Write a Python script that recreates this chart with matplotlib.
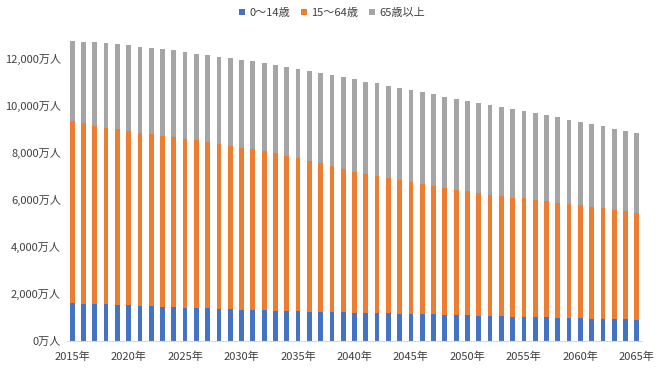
import matplotlib
matplotlib.use("Agg")
import matplotlib.pyplot as plt
from matplotlib.ticker import FuncFormatter, FixedLocator
import numpy as np

plt.rcParams['font.family'] = ['Noto Sans CJK JP', 'DejaVu Sans']

years = list(range(2015, 2066))
series_names = ["0～14歳", "15～64歳", "65歳以上"]

age_0_14 = [1595, 1578, 1559, 1541, 1521, 1507, 1485, 1464, 1444, 1425,
            1407, 1389, 1372, 1354, 1337, 1321, 1305, 1290, 1275, 1260,
            1246, 1235, 1224, 1214, 1204, 1194, 1183, 1172, 1161, 1150,
            1138, 1126, 1114, 1102, 1090, 1077, 1064, 1051, 1038, 1025,
            1012, 1000, 987, 975, 963, 951, 940, 929, 918, 908, 898]

age_15_64 = [7728, 7648, 7568, 7501, 7464, 7406, 7345, 7309, 7258, 7221,
             7170, 7116, 7048, 7009, 6941, 6875, 6832, 6748, 6678, 6580,
             6494, 6395, 6304, 6187, 6084, 5978, 5879, 5819, 5731, 5657,
             5584, 5525, 5452, 5379, 5321, 5275, 5216, 5139, 5090, 5046,
             5028, 4972, 4928, 4884, 4825, 4793, 4720, 4689, 4615, 4583, 4529]

age_65_plus = [3386, 3464, 3535, 3577, 3592, 3619, 3650, 3662, 3672, 3676,
               3677, 3680, 3690, 3695, 3705, 3712, 3718, 3730, 3745, 3770,
               3782, 3801, 3822, 3858, 3888, 3920, 3934, 3938, 3938, 3930,
               3920, 3914, 3905, 3884, 3866, 3840, 3830, 3815, 3795, 3765,
               3704, 3690, 3657, 3622, 3595, 3540, 3530, 3492, 3470, 3431, 3381]

colors = ["#4472C4", "#ED7D31", "#A5A5A5"]
text_color = "#404040"

fig = plt.figure(figsize=(6.6, 3.71), dpi=100)
ax = fig.add_axes([66.5 / 660, 1 - 340.7 / 371, 576 / 660, 329.8 / 371])

x = np.arange(len(years))
w = 0.42
b1 = ax.bar(x, age_0_14, width=w, color=colors[0], label=series_names[0])
b2 = ax.bar(x, age_15_64, width=w, bottom=age_0_14, color=colors[1], label=series_names[1])
bottom3 = np.array(age_0_14) + np.array(age_15_64)
b3 = ax.bar(x, age_65_plus, width=w, bottom=bottom3, color=colors[2], label=series_names[2])

ax.set_xlim(-0.5, len(years) - 0.5)
ax.set_ylim(0, 14000)
ax.yaxis.set_major_locator(FixedLocator([0, 2000, 4000, 6000, 8000, 10000, 12000]))
ax.yaxis.set_major_formatter(FuncFormatter(lambda v, p: f"{int(v):,}万人"))

tick_idx = [i for i, y in enumerate(years) if y % 5 == 0]
ax.set_xticks(tick_idx)
ax.set_xticklabels([f"{years[i]}年" for i in tick_idx])

for s in ["top", "right", "left"]:
    ax.spines[s].set_visible(False)
ax.spines["bottom"].set_color("#D9D9D9")
ax.spines["bottom"].set_linewidth(0.8)
ax.tick_params(axis="both", length=0, labelsize=8, colors=text_color)
ax.tick_params(axis="y", pad=4)
ax.tick_params(axis="x", pad=8)

fig.legend(handles=[b1, b2, b3], labels=series_names, loc="upper center",
           bbox_to_anchor=(0.503, 1.0), ncol=3, frameon=False, fontsize=8,
           handlelength=0.55, handleheight=0.55, handletextpad=0.35,
           columnspacing=1.0, labelcolor=text_color, borderaxespad=0.3)

fig.savefig("out.png", dpi=100)
